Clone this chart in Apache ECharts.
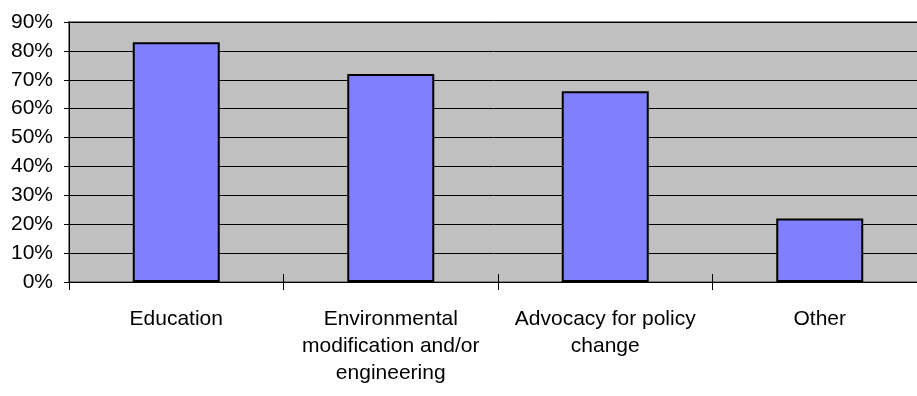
<!DOCTYPE html>
<html>
<head>
<meta charset="utf-8">
<script src="https://cdn.jsdelivr.net/npm/echarts@6/dist/echarts.min.js"></script>
<style>
  html, body { margin: 0; padding: 0; background: #ffffff; }
  #chart { width: 917px; height: 396px; }
</style>
</head>
<body>
<div id="chart"></div>
<script>
// Categories and their shares (percent)
const categories = [
  'Education',
  'Environmental\nmodification and/or\nengineering',
  'Advocacy for policy\nchange',
  'Other'
];
const shares = [83, 72, 66, 22];

// Value axis range
const yMin = 0;
const yMax = 90;
const yStep = 10;

const FONT = '"Liberation Sans", Arial, sans-serif';

const chart = echarts.init(document.getElementById('chart'), null, { renderer: 'canvas' });

chart.setOption({
  animation: false,
  backgroundColor: '#ffffff',
  grid: {
    left: 69,
    right: -10,
    top: 22,
    bottom: 114,
    outerBoundsMode: 'none',
    containLabel: false,
    show: true,
    backgroundColor: '#c0c0c0',
    borderColor: '#808080',
    borderWidth: 2
  },
  xAxis: [
    {
      type: 'category',
      data: categories,
      axisLine: { show: true, lineStyle: { color: '#000000', width: 1 } },
      axisTick: { show: true, length: 8, inside: false, lineStyle: { color: '#000000' } },
      axisLabel: {
        color: '#000000',
        fontFamily: FONT,
        fontSize: 21,
        lineHeight: 27,
        margin: 24,
        interval: 0,
        align: 'center'
      }
    },
    {
      type: 'category',
      data: categories,
      position: 'bottom',
      axisLine: { show: false },
      axisTick: { show: true, length: 8, inside: true, lineStyle: { color: '#000000' } },
      axisLabel: { show: false }
    }
  ],
  yAxis: {
    type: 'value',
    min: yMin,
    max: yMax,
    interval: yStep,
    axisLine: { show: true, lineStyle: { color: '#000000', width: 1 } },
    axisTick: { show: true, length: 5, lineStyle: { color: '#000000' } },
    splitLine: { show: true, lineStyle: { color: '#000000', width: 1 } },
    axisLabel: {
      color: '#000000',
      fontFamily: FONT,
      fontSize: 21,
      margin: 16,
      formatter: '{value}%'
    }
  },
  series: [
    {
      type: 'bar',
      data: shares,
      barWidth: 87,
      itemStyle: {
        color: '#8080ff',
        borderColor: '#000000',
        borderWidth: 2
      }
    }
  ]
});
</script>
</body>
</html>
